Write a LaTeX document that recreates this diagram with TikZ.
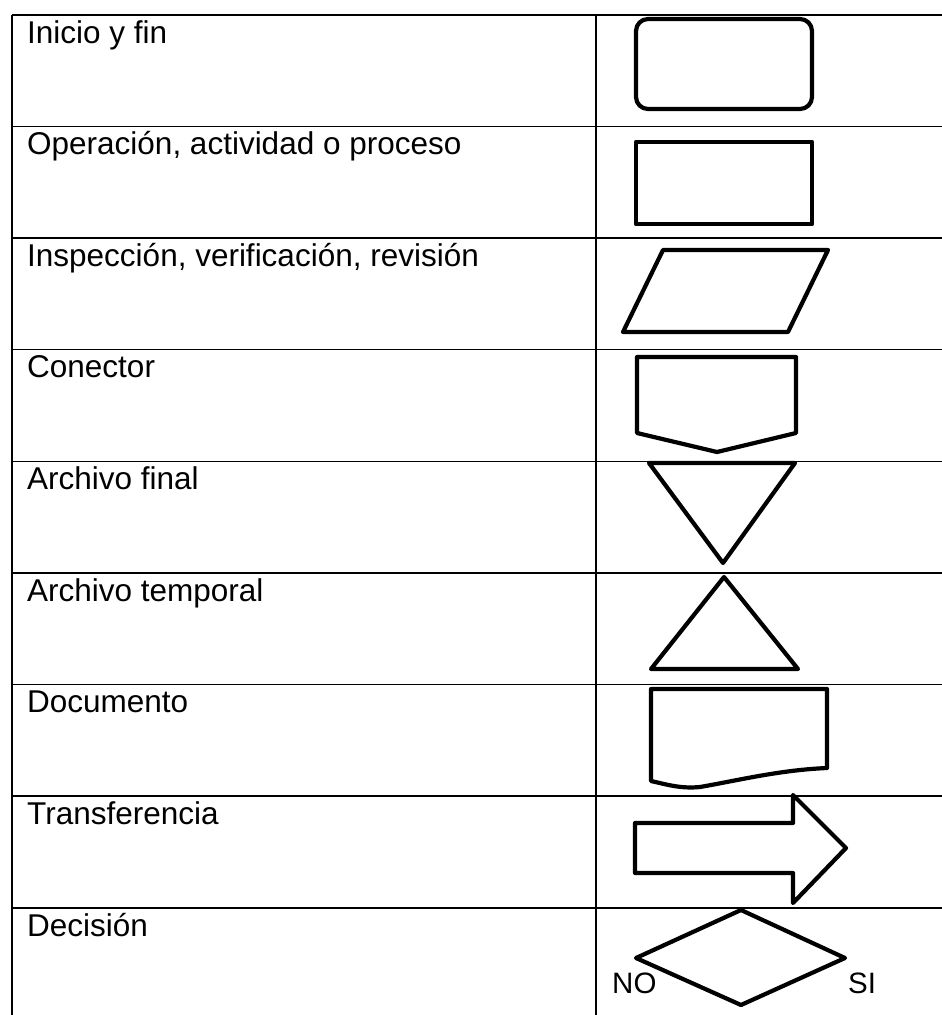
\documentclass[tikz,border=0pt]{standalone}
\usepackage{fontspec}
\setmainfont{Liberation Sans}
\begin{document}
\begin{tikzpicture}[x=1pt,y=-1pt]
\tikzset{
  gridline/.style={line width=1.6pt},
  sym/.style={line width=4.2pt, line join=round},
  lbl/.style={anchor=base west, inner sep=0pt, font=\fontsize{31.5}{36}\selectfont},
  yn/.style={anchor=base west, inner sep=0pt, font=\fontsize{29.5}{34}\selectfont}
}
\useasboundingbox (0,0) rectangle (942,1015);
% table grid
\foreach \i in {0,...,8} {
  \draw[gridline] (12,{14.7+111.65*\i}) -- (960,{14.7+111.65*\i});
}
\draw[gridline] (12,14.7) -- (12,1030);
\draw[gridline] (596,14.7) -- (596,1030);
% labels
\node[lbl] (t1) at (27,{14.7+28.3}) {Inicio y fin};
\node[lbl] (t2) at (27,{14.7+111.65*1+28.3}) {Operación, actividad o proceso};
\node[lbl] (t3) at (27,{14.7+111.65*2+28.3}) {Inspección, verificación, revisión};
\node[lbl] (t4) at (27,{14.7+111.65*3+28.3}) {Conector};
\node[lbl] (t5) at (27,{14.7+111.65*4+28.3}) {Archivo final};
\node[lbl] (t6) at (27,{14.7+111.65*5+28.3}) {Archivo temporal};
\node[lbl] (t7) at (27,{14.7+111.65*6+28.3}) {Documento};
\node[lbl] (t8) at (27,{14.7+111.65*7+28.3}) {Transferencia};
\node[lbl] (t9) at (27,{14.7+111.65*8+28.3}) {Decisión};
% symbols
\draw[sym, rounded corners=12pt] (636,19) rectangle (812,109);
\draw[sym] (636,142) rectangle (812,224);
\draw[sym] (663,250) -- (828,250) -- (788,332) -- (623,332) -- cycle;
\draw[sym] (637,357) -- (796,357) -- (796,433) -- (717,452) -- (637,433) -- cycle;
\draw[sym] (649,463) -- (795,463) -- (723,563) -- cycle;
\draw[sym] (724,577) -- (798,669) -- (651,669) -- cycle;
\draw[sym] (651,689) -- (827,689) -- (827,768)
  .. controls (780,770) and (740,780) .. (700,787)
  .. controls (680,789) and (665,784) .. (651,781) -- cycle;
\draw[sym] (635,823) -- (793,823) -- (793,795) -- (846,848) -- (793,903) -- (793,873) -- (635,873) -- cycle;
\draw[sym] (741,910) -- (845,958) -- (741,1005) -- (636,958) -- cycle;
\node[yn] (no) at (612,993) {NO};
\node[yn] (si) at (848,993) {SI};
\end{tikzpicture}
\end{document}
